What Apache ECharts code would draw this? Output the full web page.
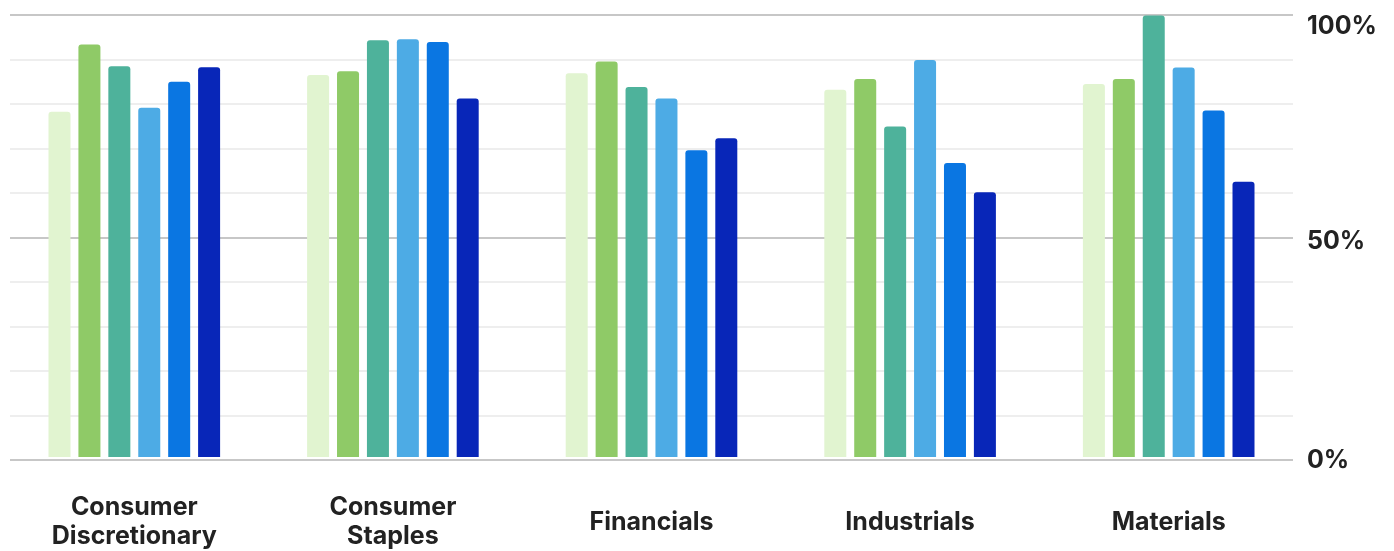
<!DOCTYPE html>
<html>
<head>
<meta charset="utf-8">
<script src="https://cdn.jsdelivr.net/npm/echarts@6/dist/echarts.min.js"></script>
<style>
  html, body { margin: 0; padding: 0; background: #ffffff; }
  #chart { width: 1394px; height: 551px; }
</style>
</head>
<body>
<div id="chart"></div>
<script>
const categories = ['Consumer\nDiscretionary', 'Consumer\nStaples', 'Financials', 'Industrials', 'Materials'];
const series1 = [78.1, 86.4, 86.8, 83.1, 84.4];
const series2 = [93.3, 87.3, 89.5, 85.5, 85.5];
const series3 = [88.4, 94.3, 83.7, 74.8, 99.9];
const series4 = [79.0, 94.5, 81.1, 89.8, 88.1];
const series5 = [84.9, 93.9, 69.4, 66.5, 78.4];
const series6 = [88.2, 81.1, 72.1, 59.9, 62.3];
const tickLabels = { 0: '0%', 50: '50%', 100: '100%' };

const colors = ['#E1F4D0', '#8FCA67', '#4EB29B', '#4DABE5', '#0A76E2', '#0826B8'];
const allSeries = [series1, series2, series3, series4, series5, series6];

const chart = echarts.init(document.getElementById('chart'), null, { renderer: 'canvas' });
const FONT = 'Inter, "Liberation Sans", sans-serif';

chart.setOption({
  animation: false,
  backgroundColor: '#ffffff',
  grid: [
    { left: 10, right: 101, top: 15, bottom: 91, containLabel: false },
    { left: 5, right: 96, top: 15, bottom: 91, containLabel: false }
  ],
  xAxis: [
    { type: 'value', gridIndex: 0, min: 0, max: 1, show: false },
    {
      type: 'category',
      gridIndex: 1,
      data: categories,
      axisLine: { show: false },
      axisTick: { show: false },
      splitLine: { show: false },
      axisLabel: {
        interval: 0,
        margin: 65,
        verticalAlign: 'middle',
        color: '#222222',
        fontFamily: FONT,
        fontWeight: 700,
        fontSize: 25,
        lineHeight: 29,
        align: 'center'
      }
    }
  ],
  yAxis: [
    {
      type: 'value',
      gridIndex: 0,
      position: 'right',
      min: 0,
      max: 100,
      interval: 10,
      axisLine: { show: false },
      axisTick: { show: false },
      splitLine: {
        show: true,
        lineStyle: {
          color: ['#b5b5b5', '#e8e8e8', '#e8e8e8', '#e8e8e8', '#e8e8e8'],
          width: 1.5
        }
      },
      axisLabel: {
        margin: 14,
        color: '#222222',
        fontFamily: FONT,
        fontWeight: 700,
        fontSize: 25,
        formatter: function (v) {
          if (v === 100) return '{a|' + tickLabels[100] + '}';
          if (v === 50) return '{b|' + tickLabels[50] + '}';
          if (v === 0) return '{c|' + tickLabels[0] + '}';
          return '';
        },
        rich: {
          a: { fontFamily: FONT, fontWeight: 700, fontSize: 25, color: '#222222', padding: [22, 0, 0, 0] },
          b: { fontFamily: FONT, fontWeight: 700, fontSize: 25, color: '#222222', padding: [8, 0, 0, 0] },
          c: { fontFamily: FONT, fontWeight: 700, fontSize: 25, color: '#222222' }
        }
      }
    },
    { type: 'value', gridIndex: 1, min: 0, max: 100, show: false }
  ],
  series: allSeries.map(function (d, i) {
    return {
      type: 'bar',
      xAxisIndex: 1,
      yAxisIndex: 1,
      data: d,
      barWidth: 22,
      barGap: '36%',
      itemStyle: { color: colors[i], borderRadius: [3, 3, 0, 0] }
    };
  })
});
</script>
</body>
</html>
